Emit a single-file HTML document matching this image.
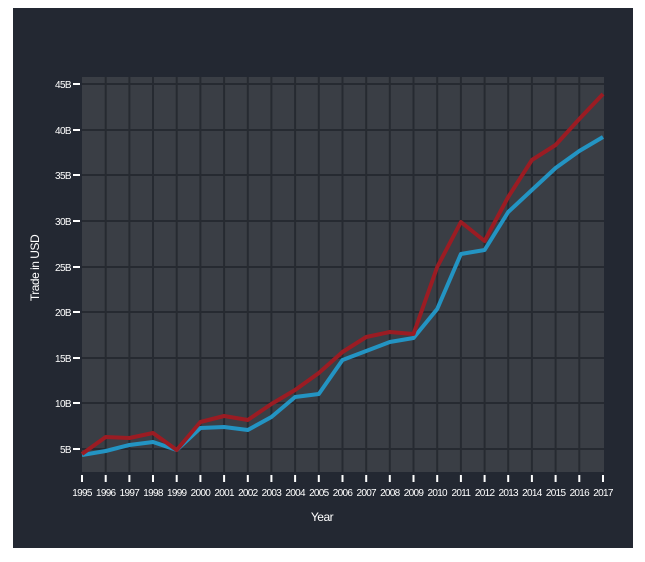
<!DOCTYPE html>
<html><head><style>body{margin:0;background:#fff}svg{display:block}</style></head><body>
<svg width="645" height="562" xmlns="http://www.w3.org/2000/svg" font-family="Liberation Sans, sans-serif">
<rect x="13" y="8" width="620" height="540" fill="#232832"/>
<rect x="82" y="77" width="522" height="395" fill="#3a3e45"/>
<g stroke="#262a31" stroke-width="2">
<line x1="82" y1="84" x2="604" y2="84"/><line x1="82" y1="130" x2="604" y2="130"/><line x1="82" y1="175" x2="604" y2="175"/><line x1="82" y1="221" x2="604" y2="221"/><line x1="82" y1="267" x2="604" y2="267"/><line x1="82" y1="312" x2="604" y2="312"/><line x1="82" y1="358" x2="604" y2="358"/><line x1="82" y1="403" x2="604" y2="403"/><line x1="82" y1="449" x2="604" y2="449"/>
<line x1="105.7" y1="77" x2="105.7" y2="472"/><line x1="129.4" y1="77" x2="129.4" y2="472"/><line x1="153" y1="77" x2="153" y2="472"/><line x1="176.7" y1="77" x2="176.7" y2="472"/><line x1="200.4" y1="77" x2="200.4" y2="472"/><line x1="224.1" y1="77" x2="224.1" y2="472"/><line x1="247.8" y1="77" x2="247.8" y2="472"/><line x1="271.4" y1="77" x2="271.4" y2="472"/><line x1="295.1" y1="77" x2="295.1" y2="472"/><line x1="318.8" y1="77" x2="318.8" y2="472"/><line x1="342.5" y1="77" x2="342.5" y2="472"/><line x1="366.2" y1="77" x2="366.2" y2="472"/><line x1="389.8" y1="77" x2="389.8" y2="472"/><line x1="413.5" y1="77" x2="413.5" y2="472"/><line x1="437.2" y1="77" x2="437.2" y2="472"/><line x1="460.9" y1="77" x2="460.9" y2="472"/><line x1="484.6" y1="77" x2="484.6" y2="472"/><line x1="508.2" y1="77" x2="508.2" y2="472"/><line x1="531.9" y1="77" x2="531.9" y2="472"/><line x1="555.6" y1="77" x2="555.6" y2="472"/><line x1="579.3" y1="77" x2="579.3" y2="472"/>
</g>
<g stroke="#fff" stroke-width="2">
<line x1="73" y1="84" x2="80" y2="84"/><line x1="73" y1="130" x2="80" y2="130"/><line x1="73" y1="175" x2="80" y2="175"/><line x1="73" y1="221" x2="80" y2="221"/><line x1="73" y1="267" x2="80" y2="267"/><line x1="73" y1="312" x2="80" y2="312"/><line x1="73" y1="358" x2="80" y2="358"/><line x1="73" y1="403" x2="80" y2="403"/><line x1="73" y1="449" x2="80" y2="449"/>
</g>
<g fill="#fff" font-size="10" text-anchor="end" letter-spacing="-0.6">
<text x="71" y="88">45B</text><text x="71" y="134">40B</text><text x="71" y="179">35B</text><text x="71" y="225">30B</text><text x="71" y="271">25B</text><text x="71" y="316">20B</text><text x="71" y="362">15B</text><text x="71" y="407">10B</text><text x="71" y="453">5B</text>
</g>
<g stroke="#fff" stroke-width="2" id="ticks">
<line x1="82" y1="475" x2="82" y2="482"/><line x1="105.7" y1="475" x2="105.7" y2="482"/><line x1="129.4" y1="475" x2="129.4" y2="482"/><line x1="153" y1="475" x2="153" y2="482"/><line x1="176.7" y1="475" x2="176.7" y2="482"/><line x1="200.4" y1="475" x2="200.4" y2="482"/><line x1="224.1" y1="475" x2="224.1" y2="482"/><line x1="247.8" y1="475" x2="247.8" y2="482"/><line x1="271.4" y1="475" x2="271.4" y2="482"/><line x1="295.1" y1="475" x2="295.1" y2="482"/><line x1="318.8" y1="475" x2="318.8" y2="482"/><line x1="342.5" y1="475" x2="342.5" y2="482"/><line x1="366.2" y1="475" x2="366.2" y2="482"/><line x1="389.8" y1="475" x2="389.8" y2="482"/><line x1="413.5" y1="475" x2="413.5" y2="482"/><line x1="437.2" y1="475" x2="437.2" y2="482"/><line x1="460.9" y1="475" x2="460.9" y2="482"/><line x1="484.6" y1="475" x2="484.6" y2="482"/><line x1="508.2" y1="475" x2="508.2" y2="482"/><line x1="531.9" y1="475" x2="531.9" y2="482"/><line x1="555.6" y1="475" x2="555.6" y2="482"/><line x1="579.3" y1="475" x2="579.3" y2="482"/><line x1="603" y1="475" x2="603" y2="482"/>
</g>
<g fill="#fff" font-size="10" text-anchor="middle" letter-spacing="-0.7">
<text x="82" y="496">1995</text><text x="105.7" y="496">1996</text><text x="129.4" y="496">1997</text><text x="153" y="496">1998</text><text x="176.7" y="496">1999</text><text x="200.4" y="496">2000</text><text x="224.1" y="496">2001</text><text x="247.8" y="496">2002</text><text x="271.4" y="496">2003</text><text x="295.1" y="496">2004</text><text x="318.8" y="496">2005</text><text x="342.5" y="496">2006</text><text x="366.2" y="496">2007</text><text x="389.8" y="496">2008</text><text x="413.5" y="496">2009</text><text x="437.2" y="496">2010</text><text x="460.9" y="496">2011</text><text x="484.6" y="496">2012</text><text x="508.2" y="496">2013</text><text x="531.9" y="496">2014</text><text x="555.6" y="496">2015</text><text x="579.3" y="496">2016</text><text x="603" y="496">2017</text>
</g>
<text x="322" y="521" fill="#fff" font-size="12" text-anchor="middle" letter-spacing="-0.5">Year</text>
<text transform="translate(39,268) rotate(-90)" fill="#fff" font-size="12" text-anchor="middle" letter-spacing="-0.5">Trade in USD</text>
<polyline fill="none" stroke="#2394c3" stroke-width="4" stroke-linejoin="round" points="82,455 105.7,451 129.4,445 153,442 176.7,450 200.4,428 224.1,427 247.8,430 271.4,417 295.1,397 318.8,394 342.5,360 366.2,351 389.8,342 413.5,338 437.2,309 460.9,254 484.6,250 508.2,212 531.9,190 555.6,168 579.3,151 603,137"/>
<polyline fill="none" stroke="#9b1c23" stroke-width="4" stroke-linejoin="round" points="82,454 105.7,437 129.4,438 153,433 176.7,450 200.4,422 224.1,416 247.8,420 271.4,404 295.1,390 318.8,373 342.5,352 366.2,337 389.8,332 413.5,334 437.2,267 460.9,222 484.6,241 508.2,197 531.9,160 555.6,145 579.3,119 603,94"/>
</svg>
</body></html>
